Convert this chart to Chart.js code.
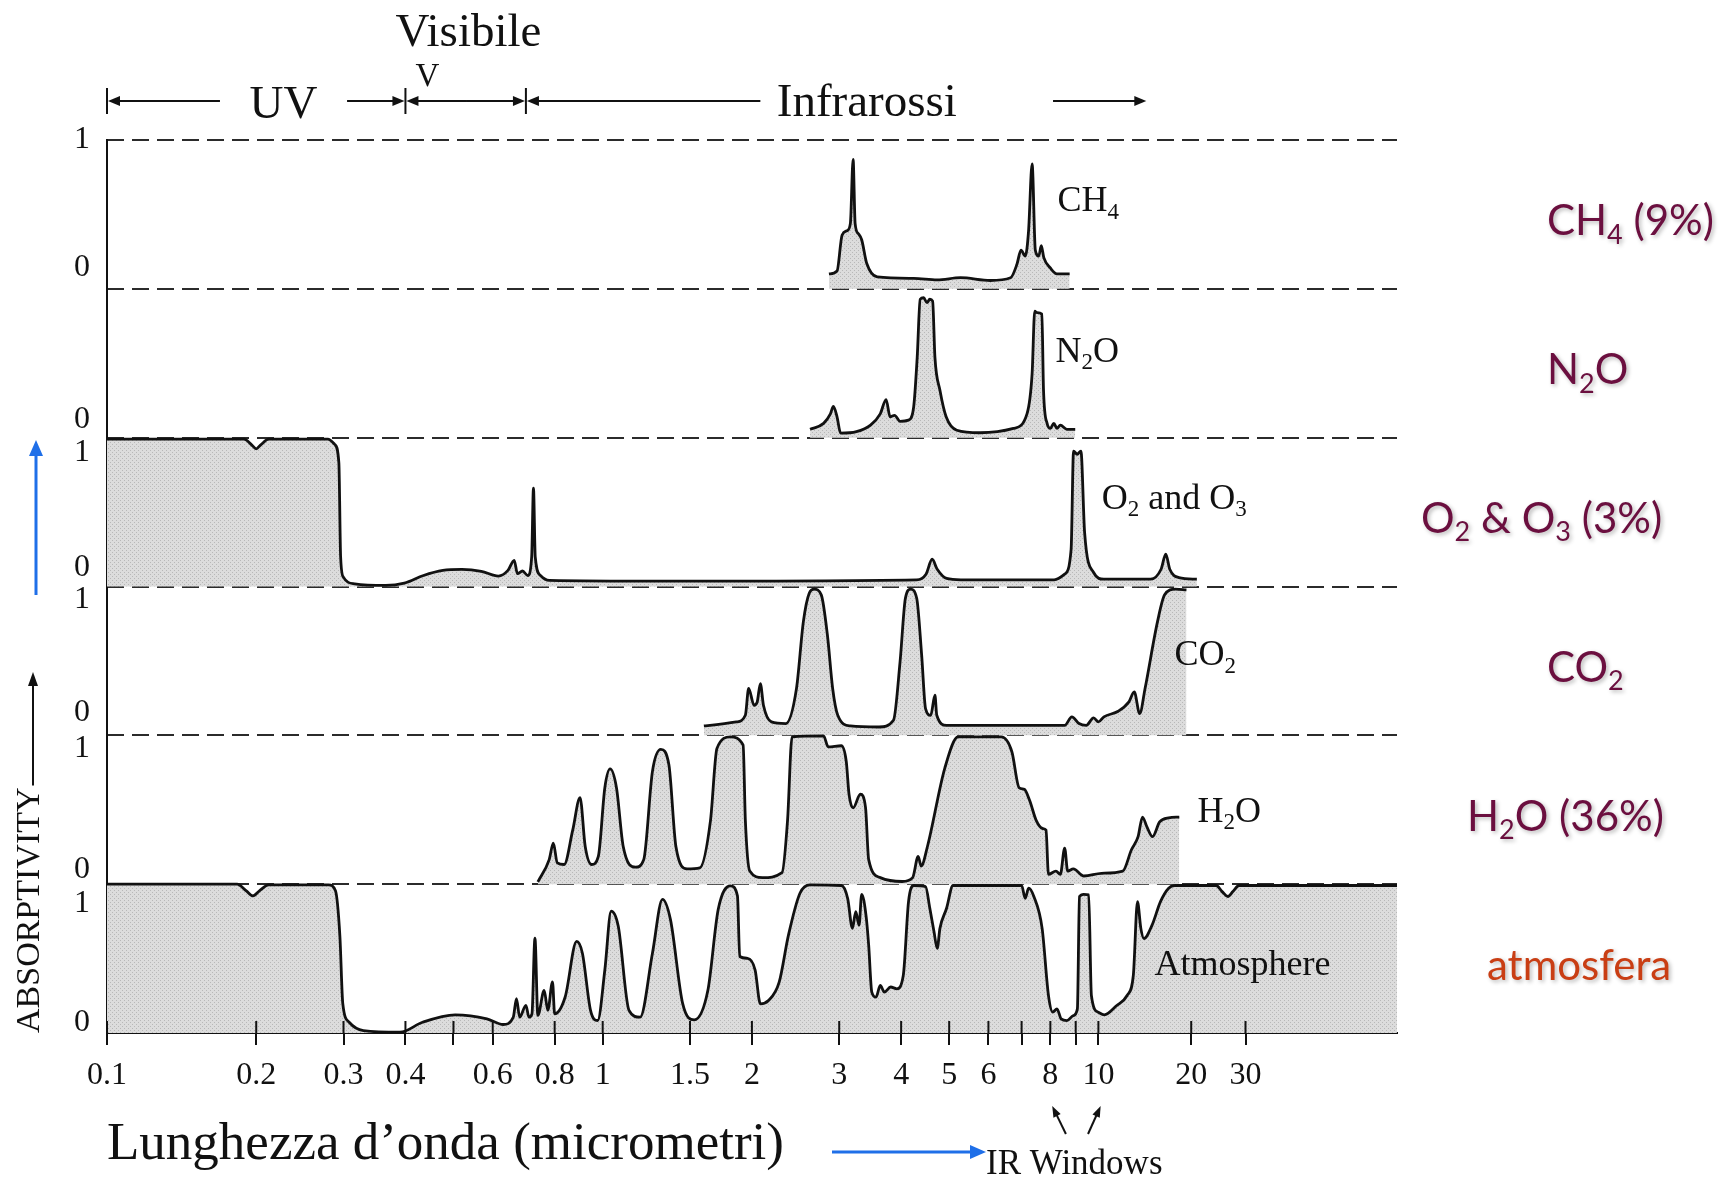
<!DOCTYPE html>
<html>
<head>
<meta charset="utf-8">
<title>Absorptivity spectra</title>
<script src="https://cdn.jsdelivr.net/npm/chart.js@4.4.1/dist/chart.umd.min.js"></script>
<style>
  html, body { margin: 0; padding: 0; background: #fff; }
</style>
</head>
<body>
<canvas id="chart" width="1727" height="1177"></canvas>
<script>
// ---------------- DATA (wavelength in micrometres, absorptivity 0..1) ----------------
const tickWaves = [0.1, 0.2, 0.3, 0.4, 0.5, 0.6, 0.8, 1, 1.5, 2, 3, 4, 5, 6, 7, 8, 9, 10, 20, 30];
const tickText  = ['0.1', '0.2', '0.3', '0.4', '', '0.6', '0.8', '1', '1.5', '2', '3', '4', '5', '6', '', '8', '', '10', '20', '30'];
const waveMax = 93;

const ch4Wave = [2.86, 2.97, 3.04, 3.11, 3.16, 3.20, 3.23, 3.28, 3.33, 3.41, 3.58, 4.24, 4.73, 5.27, 6.05, 6.65, 6.85, 6.98, 7.12, 7.23, 7.35, 7.46, 7.58, 7.67, 7.76, 8.0, 8.25, 8.75];
const ch4Abs  = [0.10, 0.12, 0.36, 0.39, 0.44, 0.87, 0.44, 0.37, 0.33, 0.17, 0.08, 0.07, 0.06, 0.075, 0.056, 0.074, 0.165, 0.26, 0.22, 0.39, 0.84, 0.26, 0.22, 0.29, 0.21, 0.14, 0.10, 0.10];

const n2oWave = [2.62, 2.79, 2.88, 2.92, 2.97, 3.02, 3.25, 3.47, 3.63, 3.73, 3.80, 3.88, 3.98, 4.14, 4.24, 4.31, 4.37, 4.44, 4.51, 4.57, 4.63, 4.68, 4.79, 4.93, 5.18, 5.77, 6.74, 7.18, 7.35, 7.44, 7.52, 7.69, 7.75, 7.88, 8.0, 8.13, 8.25, 8.38, 8.64, 8.98];
const n2oAbs  = [0.056, 0.096, 0.16, 0.21, 0.14, 0.03, 0.04, 0.084, 0.16, 0.256, 0.14, 0.15, 0.11, 0.118, 0.207, 0.54, 0.93, 0.94, 0.907, 0.93, 0.918, 0.54, 0.318, 0.14, 0.05, 0.033, 0.062, 0.162, 0.43, 0.85, 0.84, 0.83, 0.318, 0.096, 0.062, 0.096, 0.062, 0.084, 0.056, 0.056];

const o2o3Wave = [0.1, 0.189, 0.196, 0.200, 0.204, 0.212, 0.279, 0.288, 0.2936, 0.296, 0.2998, 0.316, 0.365, 0.398, 0.435, 0.476, 0.520, 0.569, 0.616, 0.644, 0.663, 0.673, 0.689, 0.706, 0.719, 0.725, 0.731, 0.749, 0.78, 1.31, 4.30, 4.49, 4.62, 4.73, 4.94, 5.28, 8.14, 8.55, 8.81, 8.91, 9.06, 9.22, 9.38, 9.78, 10.42, 14.78, 15.97, 16.54, 17.04, 18.25, 20.86];
const o2o3Abs  = [0.99, 0.99, 0.95, 0.925, 0.95, 0.99, 0.99, 0.955, 0.83, 0.2, 0.063, 0.018, 0.007, 0.023, 0.074, 0.108, 0.115, 0.102, 0.07, 0.108, 0.176, 0.086, 0.104, 0.074, 0.199, 0.661, 0.199, 0.074, 0.041, 0.036, 0.045, 0.083, 0.183, 0.116, 0.054, 0.045, 0.045, 0.083, 0.25, 0.91, 0.888, 0.91, 0.362, 0.094, 0.049, 0.049, 0.116, 0.217, 0.116, 0.06, 0.049];

const co2Wave = [1.60, 1.86, 1.94, 1.97, 2.02, 2.05, 2.08, 2.11, 2.19, 2.34, 2.46, 2.54, 2.61, 2.67, 2.76, 2.84, 2.91, 2.98, 3.16, 3.61, 3.86, 3.98, 4.08, 4.18, 4.30, 4.40, 4.48, 4.59, 4.68, 4.72, 4.94, 8.55, 8.84, 9.14, 9.45, 9.78, 10.0, 10.42, 11.6, 12.56, 13.07, 13.61, 14.17, 15.55, 16.4, 17.77, 19.3];
const co2Abs  = [0.063, 0.09, 0.135, 0.315, 0.202, 0.225, 0.348, 0.202, 0.09, 0.079, 0.315, 0.764, 0.955, 0.982, 0.944, 0.674, 0.315, 0.135, 0.063, 0.056, 0.101, 0.494, 0.921, 0.982, 0.921, 0.539, 0.18, 0.135, 0.27, 0.135, 0.067, 0.067, 0.124, 0.079, 0.067, 0.117, 0.09, 0.124, 0.162, 0.225, 0.292, 0.146, 0.315, 0.764, 0.944, 0.982, 0.978];

const h2oWave = [0.74, 0.78, 0.795, 0.81, 0.836, 0.87, 0.90, 0.922, 0.95, 0.98, 1.01, 1.035, 1.066, 1.10, 1.165, 1.21, 1.26, 1.31, 1.36, 1.405, 1.48, 1.57, 1.65, 1.70, 1.81, 1.92, 1.94, 1.98, 2.10, 2.30, 2.36, 2.41, 2.79, 2.85, 3.03, 3.10, 3.14, 3.20, 3.31, 3.39, 3.44, 3.63, 4.02, 4.22, 4.33, 4.39, 4.52, 4.90, 5.21, 6.37, 6.69, 6.92, 7.09, 7.27, 7.49, 7.72, 7.84, 7.93, 8.21, 8.38, 8.55, 8.67, 8.90, 9.35, 10.23, 12.0, 12.8, 13.45, 13.9, 14.37, 14.98, 15.8, 16.9, 18.3];
const h2oAbs  = [0.015, 0.165, 0.275, 0.143, 0.132, 0.363, 0.582, 0.253, 0.132, 0.187, 0.648, 0.774, 0.648, 0.253, 0.114, 0.165, 0.758, 0.905, 0.802, 0.253, 0.103, 0.11, 0.429, 0.912, 0.989, 0.934, 0.429, 0.088, 0.044, 0.077, 0.429, 0.989, 0.996, 0.923, 0.93, 0.824, 0.604, 0.512, 0.604, 0.516, 0.165, 0.044, 0.018, 0.044, 0.187, 0.121, 0.253, 0.78, 0.989, 0.989, 0.89, 0.648, 0.637, 0.56, 0.429, 0.374, 0.363, 0.066, 0.088, 0.066, 0.242, 0.088, 0.103, 0.055, 0.073, 0.088, 0.231, 0.319, 0.451, 0.385, 0.319, 0.418, 0.446, 0.451];

const atmWave = [0.1, 0.183, 0.191, 0.197, 0.203, 0.212, 0.280, 0.289, 0.295, 0.299, 0.308, 0.329, 0.39, 0.433, 0.504, 0.584, 0.63, 0.66, 0.67, 0.68, 0.70, 0.71, 0.72, 0.73, 0.74, 0.762, 0.775, 0.792, 0.80, 0.84, 0.886, 0.91, 0.945, 0.977, 1.01, 1.04, 1.075, 1.13, 1.19, 1.26, 1.32, 1.37, 1.45, 1.53, 1.63, 1.71, 1.81, 1.87, 1.89, 1.96, 2.03, 2.08, 2.16, 2.27, 2.37, 2.50, 2.62, 3.03, 3.12, 3.19, 3.24, 3.29, 3.33, 3.40, 3.44, 3.49, 3.56, 3.63, 3.70, 3.81, 3.92, 4.04, 4.14, 4.24, 4.48, 4.57, 4.66, 4.73, 4.79, 4.94, 5.09, 7.0, 7.12, 7.23, 7.41, 7.70, 7.93, 8.09, 8.25, 8.41, 8.64, 8.90, 9.07, 9.16, 9.34, 9.56, 9.68, 9.99, 10.45, 11.47, 12.39, 12.98, 13.39, 13.73, 14.05, 14.93, 15.9, 16.9, 17.69, 24.1, 25.2, 26.3, 27.3, 28.6, 93];
const atmAbs  = [1.0, 1.0, 0.955, 0.921, 0.955, 0.995, 0.995, 0.955, 0.65, 0.197, 0.072, 0.016, 0.005, 0.072, 0.122, 0.095, 0.057, 0.106, 0.231, 0.106, 0.186, 0.106, 0.129, 0.638, 0.118, 0.287, 0.152, 0.344, 0.129, 0.242, 0.615, 0.536, 0.152, 0.084, 0.423, 0.819, 0.717, 0.152, 0.106, 0.536, 0.898, 0.762, 0.197, 0.088, 0.287, 0.83, 0.989, 0.921, 0.514, 0.502, 0.423, 0.196, 0.218, 0.342, 0.658, 0.939, 0.995, 0.991, 0.905, 0.703, 0.815, 0.725, 0.932, 0.782, 0.59, 0.275, 0.241, 0.32, 0.275, 0.309, 0.297, 0.387, 0.883, 0.991, 0.984, 0.838, 0.68, 0.568, 0.703, 0.838, 0.991, 0.991, 0.905, 0.973, 0.917, 0.703, 0.252, 0.14, 0.162, 0.095, 0.083, 0.117, 0.162, 0.917, 0.932, 0.928, 0.252, 0.14, 0.122, 0.185, 0.252, 0.387, 0.883, 0.703, 0.635, 0.725, 0.883, 0.973, 0.991, 0.991, 0.95, 0.917, 0.95, 0.991, 0.991];

// panels from the bottom up; "_4" means subscript 4
const panelNames  = ['Atmosphere', 'H_2O', 'CO_2', 'O_2 and O_3', 'N_2O', 'CH_4'];
const panelNotes  = ['atmosfera', 'H_2O (36%)', 'CO_2', 'O_2 & O_3 (3%)', 'N_2O', 'CH_4 (9%)'];
const panelWaves  = [atmWave, h2oWave, co2Wave, o2o3Wave, n2oWave, ch4Wave];
const panelAbs    = [atmAbs, h2oAbs, co2Abs, o2o3Abs, n2oAbs, ch4Abs];

// "0" / "1" labels sit a little inside each band, as in the original figure
const yTickSpots = [0.07, 0.87, 1.10, 1.91, 2.15, 2.91, 3.13, 3.90, 4.12, 5.14, 6.0];
const yTickText  = ['0', '1', '0', '1', '0', '1', '0', '1', '0', '0', '1'];

// ---------------- X MAPPING ----------------
// log scale up to 10 um, squeezed log beyond (as drawn in the source figure)
function T(w) {
    return w <= 10 ? Math.log10(w / 0.1) : 2 + 0.622 * Math.log10(w / 10);
}

const SERIF = '"Liberation Serif", "DejaVu Serif", serif';
const SANS = 'Lato, "Open Sans", sans-serif';

const canvas = document.getElementById('chart');
const ctx0 = canvas.getContext('2d');

// stippled grey, like the printed shading
function stipple() {
    const c = document.createElement('canvas');
    c.width = c.height = 4;
    const g = c.getContext('2d');
    g.fillStyle = '#dcdcdc';
    g.fillRect(0, 0, 4, 4);
    g.fillStyle = '#b8b8b8';
    g.fillRect(0, 0, 1, 1);
    g.fillRect(2, 2, 1, 1);
    return ctx0.createPattern(c, 'repeat');
}
const shade = stipple();

// ---------------- DRAW HELPERS ----------------
function arrow(ctx, x1, y1, x2, y2, head, half) {
    const a = Math.atan2(y2 - y1, x2 - x1);
    const c = Math.cos(a), s = Math.sin(a);
    ctx.beginPath();
    ctx.moveTo(x1, y1);
    ctx.lineTo(x2 - c * head * 0.7, y2 - s * head * 0.7);
    ctx.stroke();
    ctx.beginPath();
    ctx.moveTo(x2, y2);
    ctx.lineTo(x2 - head * c + half * s, y2 - head * s - half * c);
    ctx.lineTo(x2 - head * c - half * s, y2 - head * s + half * c);
    ctx.closePath();
    ctx.fill();
}

function richText(ctx, str, x, y, size, family, align) {
    const parts = str.split(/(_\d)/).filter(p => p.length);
    const subSize = Math.round(size * 0.64);
    let total = 0;
    const widths = parts.map(p => {
        const sub = p[0] === '_';
        ctx.font = `${sub ? subSize : size}px ${family}`;
        const w = ctx.measureText(sub ? p.slice(1) : p).width;
        total += w;
        return w;
    });
    let cx = align === 'center' ? x - total / 2 : x;
    ctx.textAlign = 'left';
    ctx.textBaseline = 'alphabetic';
    parts.forEach((p, i) => {
        const sub = p[0] === '_';
        ctx.font = `${sub ? subSize : size}px ${family}`;
        ctx.fillText(sub ? p.slice(1) : p, cx, sub ? y + size * 0.2 : y);
        cx += widths[i];
    });
}

// ---------------- ANNOTATIONS ----------------
const figureNotes = {
    id: 'figureNotes',
    afterDraw(chart) {
        const ctx = chart.ctx;
        const xs = chart.scales.x, ys = chart.scales.y;
        const X = w => xs.getPixelForValue(T(w));
        const Y = v => ys.getPixelForValue(v);
        const area = chart.chartArea;
        ctx.save();
        ctx.fillStyle = '#111';
        ctx.strokeStyle = '#111';
        ctx.lineWidth = 2;

        // upper half of the cross ticks on the wavelength axis
        xs.ticks.forEach(t => {
            const px = xs.getPixelForValue(t.value);
            ctx.beginPath();
            ctx.moveTo(px, area.bottom - 12);
            ctx.lineTo(px, area.bottom);
            ctx.stroke();
        });

        // header: UV / Visibile / Infrarossi
        const hy = 101;
        [0.1, 0.4, 0.7].forEach(w => {
            ctx.beginPath();
            ctx.moveTo(X(w), 88);
            ctx.lineTo(X(w), 114);
            ctx.stroke();
        });
        arrow(ctx, X(0.169), hy, X(0.1) + 1, hy, 12, 5);
        arrow(ctx, X(0.305), hy, X(0.4) - 1, hy, 12, 5);
        arrow(ctx, X(0.53), hy, X(0.4) + 1, hy, 12, 5);
        arrow(ctx, X(0.53), hy, X(0.7) - 1, hy, 12, 5);
        arrow(ctx, X(2.08), hy, X(0.7) + 1, hy, 12, 5);
        arrow(ctx, X(8.1), hy, X(14.3), hy, 12, 5);
        ctx.textAlign = 'center';
        ctx.textBaseline = 'alphabetic';
        ctx.font = `47px ${SERIF}`;
        ctx.fillText('UV', X(0.227), 118);
        ctx.fillText('Infrarossi', X(3.41), 116);
        ctx.fillText('Visibile', X(0.536), 46);
        ctx.font = `33px ${SERIF}`;
        ctx.fillText('V', X(0.443), 86);

        // gas names inside the panels
        const inside = [[15.2, 0.39], [20.95, 1.42], [17.65, 2.47], [10.25, 3.52], [8.19, 4.51], [8.27, 5.52]];
        panelNames.forEach((name, k) => {
            richText(ctx, name, X(inside[k][0]), Y(inside[k][1]), 36, SERIF, 'left');
        });

        // coloured notes on the right
        const noteLeft = [1487, 1467, 1547, 1421, 1547, 1547];
        ctx.shadowColor = 'rgba(0,0,0,0.28)';
        ctx.shadowBlur = 4;
        ctx.shadowOffsetX = 2;
        ctx.shadowOffsetY = 2;
        panelNotes.forEach((note, k) => {
            ctx.fillStyle = k === 0 ? '#c93e14' : '#6b0f3f';
            richText(ctx, note, noteLeft[k], Y(k + 0.5) + 21, 42, SANS, 'left');
        });
        ctx.shadowColor = 'transparent';
        ctx.shadowBlur = 0;
        ctx.shadowOffsetX = 0;
        ctx.shadowOffsetY = 0;

        // arrow continuing the ABSORPTIVITY title
        ctx.fillStyle = '#111';
        ctx.font = `34px ${SERIF}`;
        const titleLen = ctx.measureText('ABSORPTIVITY').width;
        arrow(ctx, 33, area.bottom - titleLen - 2, 33, 672, 14, 5);

        // blue arrows
        ctx.strokeStyle = '#1f6fe8';
        ctx.fillStyle = '#1f6fe8';
        ctx.lineWidth = 3;
        arrow(ctx, 36, 595, 36, 440, 16, 7);
        arrow(ctx, 832, 1152, 986, 1152, 16, 7);

        // IR windows
        ctx.strokeStyle = '#111';
        ctx.fillStyle = '#111';
        ctx.lineWidth = 2;
        arrow(ctx, X(8.6), 1134, X(8.07), 1106, 11, 4);
        arrow(ctx, X(9.53), 1134, X(10.17), 1106, 11, 4);
        ctx.textAlign = 'left';
        ctx.font = `35px ${SERIF}`;
        ctx.fillText('IR Windows', 986, 1174);

        ctx.restore();
    }
};

// ---------------- CHART ----------------
const datasets = panelWaves.map((waves, k) => ({
    label: panelNames[k],
    data: waves.map((w, i) => ({ x: T(w), y: k + panelAbs[k][i] })),
    borderColor: '#111',
    borderWidth: 2.8,
    backgroundColor: shade,
    fill: { value: k },
    pointRadius: 0,
    cubicInterpolationMode: 'monotone',
    yAxisID: 'y'
}));

new Chart(canvas, {
    type: 'line',
    data: { datasets },
    options: {
        responsive: false,
        animation: false,
        layout: { padding: { top: 140, right: 330, bottom: 0, left: 0 } },
        plugins: {
            legend: { display: false },
            tooltip: { enabled: false }
        },
        scales: {
            x: {
                type: 'linear',
                min: 0,
                max: T(waveMax),
                afterBuildTicks: s => { s.ticks = tickWaves.map(w => ({ value: T(w) })); },
                afterFit: s => { s.height = 144; },
                ticks: {
                    autoSkip: false,
                    maxRotation: 0,
                    padding: 11,
                    color: '#111',
                    font: { family: SERIF, size: 32 },
                    callback: (v, i) => tickText[i]
                },
                grid: { drawOnChartArea: false, tickLength: 12, color: '#111', lineWidth: 2 },
                border: { display: true, color: '#111', width: 2 },
                title: {
                    display: true,
                    text: 'Lunghezza d\u2019onda (micrometri)',
                    align: 'start',
                    color: '#111',
                    font: { family: SERIF, size: 53 },
                    padding: { top: 0, bottom: 0 }
                }
            },
            y: {
                type: 'linear',
                position: 'left',
                min: 0,
                max: 6,
                afterBuildTicks: s => { s.ticks = yTickSpots.map(v => ({ value: v })); },
                afterFit: s => { s.width = 107; },
                ticks: {
                    padding: 17,
                    color: '#111',
                    font: { family: SERIF, size: 32 },
                    callback: (v, i) => yTickText[i]
                },
                grid: { display: false, drawTicks: false },
                border: { display: true, color: '#111', width: 2 },
                title: {
                    display: true,
                    text: 'ABSORPTIVITY',
                    align: 'start',
                    color: '#111',
                    font: { family: SERIF, size: 34 },
                    padding: { top: 10, bottom: 0 }
                }
            },
            bands: {
                type: 'linear',
                position: 'right',
                min: 0,
                max: 6,
                afterBuildTicks: s => { s.ticks = [1, 2, 3, 4, 5, 6].map(v => ({ value: v })); },
                afterFit: s => { s.width = 0; },
                ticks: { display: false },
                grid: { color: '#2b2b2b', lineWidth: 2, drawTicks: false },
                border: { display: false, dash: [17, 8] }
            }
        }
    },
    plugins: [figureNotes]
});
</script>
</body>
</html>
